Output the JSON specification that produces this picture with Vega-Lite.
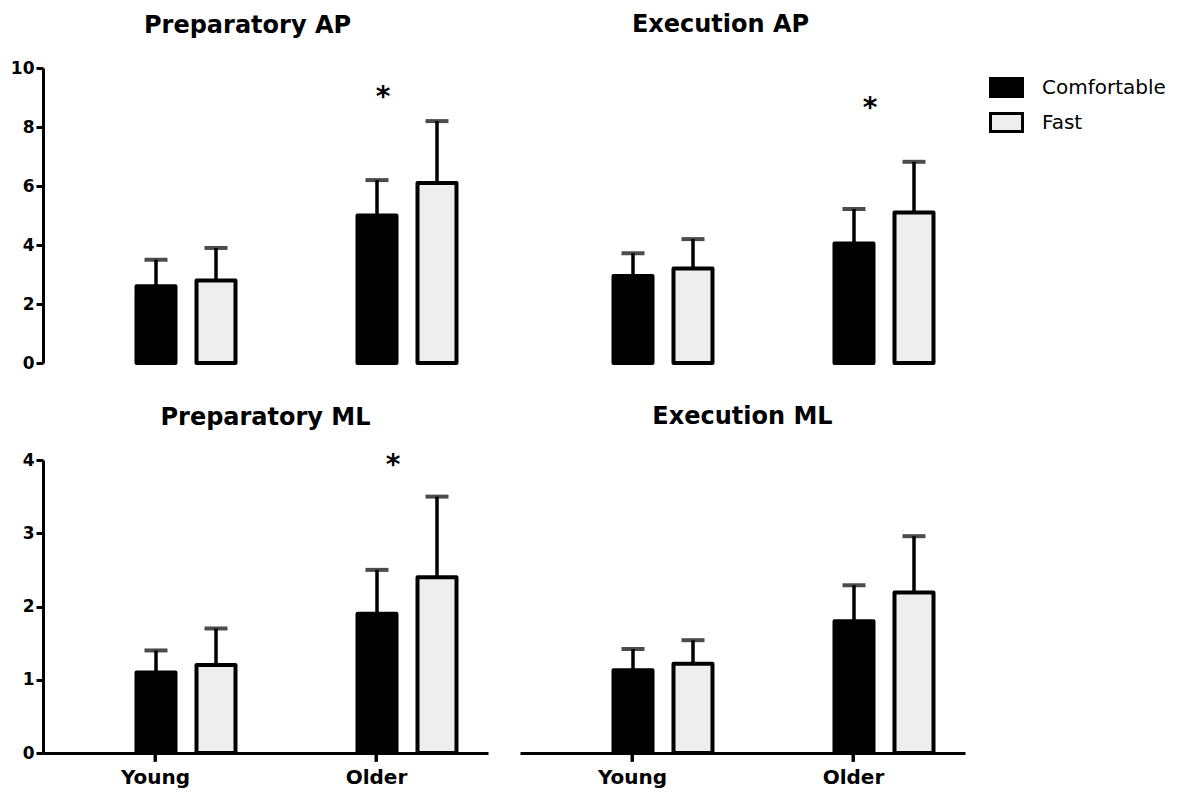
{
  "$schema": "https://vega.github.io/schema/vega-lite/v6.json",
  "background": "white",
  "padding": {"left": 10, "top": 13, "right": 5, "bottom": 5},
  "datasets": {
    "bars": [
      {"panel": "Preparatory AP", "age": "Young", "speed": "Comfortable", "mean": 2.6, "upper": 3.5},
      {"panel": "Preparatory AP", "age": "Young", "speed": "Fast", "mean": 2.8, "upper": 3.9},
      {"panel": "Preparatory AP", "age": "Older", "speed": "Comfortable", "mean": 5.0, "upper": 6.2},
      {"panel": "Preparatory AP", "age": "Older", "speed": "Fast", "mean": 6.1, "upper": 8.2},
      {"panel": "Execution AP", "age": "Young", "speed": "Comfortable", "mean": 2.95, "upper": 3.72},
      {"panel": "Execution AP", "age": "Young", "speed": "Fast", "mean": 3.2, "upper": 4.2},
      {"panel": "Execution AP", "age": "Older", "speed": "Comfortable", "mean": 4.05, "upper": 5.22},
      {"panel": "Execution AP", "age": "Older", "speed": "Fast", "mean": 5.1, "upper": 6.82},
      {"panel": "Preparatory ML", "age": "Young", "speed": "Comfortable", "mean": 1.1, "upper": 1.4},
      {"panel": "Preparatory ML", "age": "Young", "speed": "Fast", "mean": 1.2, "upper": 1.7},
      {"panel": "Preparatory ML", "age": "Older", "speed": "Comfortable", "mean": 1.9, "upper": 2.5},
      {"panel": "Preparatory ML", "age": "Older", "speed": "Fast", "mean": 2.4, "upper": 3.5},
      {"panel": "Execution ML", "age": "Young", "speed": "Comfortable", "mean": 1.13, "upper": 1.42},
      {"panel": "Execution ML", "age": "Young", "speed": "Fast", "mean": 1.22, "upper": 1.54},
      {"panel": "Execution ML", "age": "Older", "speed": "Comfortable", "mean": 1.8, "upper": 2.29},
      {"panel": "Execution ML", "age": "Older", "speed": "Fast", "mean": 2.19, "upper": 2.96}
    ],
    "stars": [
      {"panel": "Preparatory AP", "age": "Older", "y": 8.71},
      {"panel": "Execution AP", "age": "Older", "y": 8.34},
      {"panel": "Preparatory ML", "age": "Older", "y": 3.81}
    ]
  },
  "config": {
    "view": {"stroke": null},
    "font": "DejaVu Sans",
    "title": {"font": "DejaVu Sans", "fontSize": 24, "fontWeight": "bold", "color": "black", "anchor": "middle", "frame": "group", "baseline": "alphabetic"},
    "axis": {"domainColor": "black", "domainWidth": 3, "tickColor": "black", "tickWidth": 3, "tickSize": 7, "labelFont": "DejaVu Sans", "labelFontWeight": "bold", "labelColor": "black", "grid": false, "title": null, "ticks": true},
    "axisX": {"labelFontSize": 20, "labelPadding": 6, "labelAngle": 0, "tickSize": 8},
    "axisY": {"labelFontSize": 17, "labelPadding": 2, "format": "d"},
    "legend": {"orient": "right", "title": null, "labelFont": "DejaVu Sans", "labelFontSize": 20, "labelColor": "black", "symbolType": "M-1,-0.56H1V0.56H-1Z", "symbolSize": 1024, "symbolStrokeColor": "black", "symbolStrokeWidth": 3, "labelOffset": 18, "rowPadding": 2, "offset": 22, "padding": 2}
  },
  "columns": 2,
  "spacing": {"row": 97, "column": 32},
  "bounds": "flush",
  "resolve": {"scale": {"x": "independent", "y": "independent", "fill": "shared"}, "legend": {"fill": "shared"}},
  "concat": [
    {
      "title": {"text": "Preparatory AP", "dx": -18, "offset": 21},
      "width": 445, "height": 295,
      "encoding": {
        "x": {"field": "age", "type": "nominal", "sort": ["Young", "Older"], "scale": {"paddingInner": 0.552, "paddingOuter": 0.2828, "align": 0.748}, "axis": null}
      },
      "layer": [
        {
          "data": {"name": "bars"},
          "transform": [{"filter": "datum.panel === 'Preparatory AP'"}],
          "mark": {"type": "rule", "strokeWidth": 3.5, "color": "black"},
          "encoding": {
            "xOffset": {"field": "speed", "type": "nominal", "sort": ["Comfortable", "Fast"], "scale": {"paddingInner": 0.35, "paddingOuter": 0}},
            "y": {"field": "mean", "type": "quantitative", "scale": {"domain": [0, 10], "nice": false}, "axis": {"values": [0, 2, 4, 6, 8, 10]}},
            "y2": {"field": "upper"}
          }
        },
        {
          "data": {"name": "bars"},
          "transform": [{"filter": "datum.panel === 'Preparatory AP'"}],
          "mark": {"type": "tick", "thickness": 4, "size": 23, "color": "black"},
          "encoding": {
            "xOffset": {"field": "speed", "type": "nominal", "sort": ["Comfortable", "Fast"]},
            "y": {"field": "upper", "type": "quantitative"}
          }
        },
        {
          "data": {"name": "bars"},
          "transform": [{"filter": "datum.panel === 'Preparatory AP'"}],
          "mark": {"type": "bar", "stroke": "black", "strokeWidth": 4, "strokeJoin": "round"},
          "encoding": {
            "xOffset": {"field": "speed", "type": "nominal", "sort": ["Comfortable", "Fast"]},
            "y": {"field": "mean", "type": "quantitative"},
            "fill": {"field": "speed", "type": "nominal", "scale": {"domain": ["Comfortable", "Fast"], "range": ["black", "#eeeeee"]}}
          }
        },
        {
          "data": {"name": "stars"},
          "transform": [{"filter": "datum.panel === 'Preparatory AP'"}],
          "mark": {"type": "text", "text": "*", "font": "DejaVu Sans", "fontWeight": "bold", "fontSize": 28, "baseline": "alphabetic", "dx": -24, "color": "black"},
          "encoding": {"y": {"field": "y", "type": "quantitative"}}
        }
      ]
    },
    {
      "title": {"text": "Execution AP", "dx": -22, "offset": 31},
      "width": 445, "height": 295,
      "encoding": {
        "x": {"field": "age", "type": "nominal", "sort": ["Young", "Older"], "scale": {"paddingInner": 0.552, "paddingOuter": 0.2828, "align": 0.748}, "axis": null}
      },
      "layer": [
        {
          "data": {"name": "bars"},
          "transform": [{"filter": "datum.panel === 'Execution AP'"}],
          "mark": {"type": "rule", "strokeWidth": 3.5, "color": "black"},
          "encoding": {
            "xOffset": {"field": "speed", "type": "nominal", "sort": ["Comfortable", "Fast"], "scale": {"paddingInner": 0.35, "paddingOuter": 0}},
            "y": {"field": "mean", "type": "quantitative", "scale": {"domain": [0, 10], "nice": false}, "axis": null},
            "y2": {"field": "upper"}
          }
        },
        {
          "data": {"name": "bars"},
          "transform": [{"filter": "datum.panel === 'Execution AP'"}],
          "mark": {"type": "tick", "thickness": 4, "size": 23, "color": "black"},
          "encoding": {
            "xOffset": {"field": "speed", "type": "nominal", "sort": ["Comfortable", "Fast"]},
            "y": {"field": "upper", "type": "quantitative"}
          }
        },
        {
          "data": {"name": "bars"},
          "transform": [{"filter": "datum.panel === 'Execution AP'"}],
          "mark": {"type": "bar", "stroke": "black", "strokeWidth": 4, "strokeJoin": "round"},
          "encoding": {
            "xOffset": {"field": "speed", "type": "nominal", "sort": ["Comfortable", "Fast"]},
            "y": {"field": "mean", "type": "quantitative"},
            "fill": {"field": "speed", "type": "nominal", "scale": {"domain": ["Comfortable", "Fast"], "range": ["black", "#eeeeee"]}}
          }
        },
        {
          "data": {"name": "stars"},
          "transform": [{"filter": "datum.panel === 'Execution AP'"}],
          "mark": {"type": "text", "text": "*", "font": "DejaVu Sans", "fontWeight": "bold", "fontSize": 28, "baseline": "alphabetic", "dx": -14, "color": "black"},
          "encoding": {"y": {"field": "y", "type": "quantitative"}}
        }
      ]
    },
    {
      "title": {"text": "Preparatory ML", "offset": 21},
      "width": 445, "height": 293,
      "encoding": {
        "x": {"field": "age", "type": "nominal", "sort": ["Young", "Older"], "scale": {"paddingInner": 0.552, "paddingOuter": 0.2828, "align": 0.748}, "axis": {"tickOffset": -31, "ticks": true, "tickSize": 8, "tickWidth": 3, "tickColor": "black", "tickOpacity": 1}}
      },
      "layer": [
        {
          "data": {"name": "bars"},
          "transform": [{"filter": "datum.panel === 'Preparatory ML'"}],
          "mark": {"type": "rule", "strokeWidth": 3.5, "color": "black"},
          "encoding": {
            "xOffset": {"field": "speed", "type": "nominal", "sort": ["Comfortable", "Fast"], "scale": {"paddingInner": 0.35, "paddingOuter": 0}},
            "y": {"field": "mean", "type": "quantitative", "scale": {"domain": [0, 4], "nice": false}, "axis": {"values": [0, 1, 2, 3, 4]}},
            "y2": {"field": "upper"}
          }
        },
        {
          "data": {"name": "bars"},
          "transform": [{"filter": "datum.panel === 'Preparatory ML'"}],
          "mark": {"type": "tick", "thickness": 4, "size": 23, "color": "black"},
          "encoding": {
            "xOffset": {"field": "speed", "type": "nominal", "sort": ["Comfortable", "Fast"]},
            "y": {"field": "upper", "type": "quantitative"}
          }
        },
        {
          "data": {"name": "bars"},
          "transform": [{"filter": "datum.panel === 'Preparatory ML'"}],
          "mark": {"type": "bar", "stroke": "black", "strokeWidth": 4, "strokeJoin": "round"},
          "encoding": {
            "xOffset": {"field": "speed", "type": "nominal", "sort": ["Comfortable", "Fast"]},
            "y": {"field": "mean", "type": "quantitative"},
            "fill": {"field": "speed", "type": "nominal", "scale": {"domain": ["Comfortable", "Fast"], "range": ["black", "#eeeeee"]}}
          }
        },
        {
          "data": {"name": "bars"},
          "transform": [{"filter": "datum.panel === 'Preparatory ML' && datum.speed === 'Comfortable'"}],
          "mark": {"type": "rule", "strokeWidth": 3, "color": "black", "xOffset": -31},
          "encoding": {"y": {"datum": 0, "type": "quantitative"}, "y2": {"datum": -0.12}}
        },
        {
          "data": {"name": "stars"},
          "transform": [{"filter": "datum.panel === 'Preparatory ML'"}],
          "mark": {"type": "text", "text": "*", "font": "DejaVu Sans", "fontWeight": "bold", "fontSize": 28, "baseline": "alphabetic", "dx": -14, "color": "black"},
          "encoding": {"y": {"field": "y", "type": "quantitative"}}
        }
      ]
    },
    {
      "title": {"text": "Execution ML", "offset": 31},
      "width": 445, "height": 293,
      "encoding": {
        "x": {"field": "age", "type": "nominal", "sort": ["Young", "Older"], "scale": {"paddingInner": 0.552, "paddingOuter": 0.2828, "align": 0.748}, "axis": {"tickOffset": -31, "ticks": true, "tickSize": 8, "tickWidth": 3, "tickColor": "black", "tickOpacity": 1}}
      },
      "layer": [
        {
          "data": {"name": "bars"},
          "transform": [{"filter": "datum.panel === 'Execution ML'"}],
          "mark": {"type": "rule", "strokeWidth": 3.5, "color": "black"},
          "encoding": {
            "xOffset": {"field": "speed", "type": "nominal", "sort": ["Comfortable", "Fast"], "scale": {"paddingInner": 0.35, "paddingOuter": 0}},
            "y": {"field": "mean", "type": "quantitative", "scale": {"domain": [0, 4], "nice": false}, "axis": null},
            "y2": {"field": "upper"}
          }
        },
        {
          "data": {"name": "bars"},
          "transform": [{"filter": "datum.panel === 'Execution ML'"}],
          "mark": {"type": "tick", "thickness": 4, "size": 23, "color": "black"},
          "encoding": {
            "xOffset": {"field": "speed", "type": "nominal", "sort": ["Comfortable", "Fast"]},
            "y": {"field": "upper", "type": "quantitative"}
          }
        },
        {
          "data": {"name": "bars"},
          "transform": [{"filter": "datum.panel === 'Execution ML'"}],
          "mark": {"type": "bar", "stroke": "black", "strokeWidth": 4, "strokeJoin": "round"},
          "encoding": {
            "xOffset": {"field": "speed", "type": "nominal", "sort": ["Comfortable", "Fast"]},
            "y": {"field": "mean", "type": "quantitative"},
            "fill": {"field": "speed", "type": "nominal", "scale": {"domain": ["Comfortable", "Fast"], "range": ["black", "#eeeeee"]}}
          }
        },
        {
          "data": {"name": "bars"},
          "transform": [{"filter": "datum.panel === 'Execution ML' && datum.speed === 'Comfortable'"}],
          "mark": {"type": "rule", "strokeWidth": 3, "color": "black", "xOffset": -31},
          "encoding": {"y": {"datum": 0, "type": "quantitative"}, "y2": {"datum": -0.12}}
        }
      ]
    }
  ]
}
